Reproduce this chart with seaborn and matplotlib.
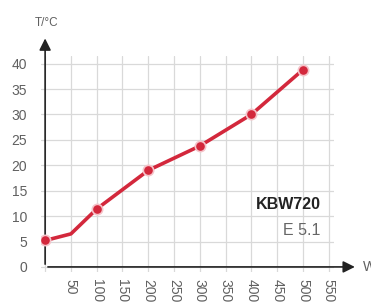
import numpy as np
import pandas as pd
import matplotlib.pyplot as plt
import seaborn as sns

sns.set_style("white")
plt.rcParams['font.family'] = ['Liberation Sans', 'DejaVu Sans']

# --- Data ---
power_w = [0, 50, 100, 200, 300, 400, 500]
temp_c = [5.2, 6.5, 11.4, 19.0, 23.8, 30.0, 38.8]
marker_w = [0, 100, 200, 300, 400, 500]
marker_c = [5.2, 11.4, 19.0, 23.8, 30.0, 38.8]
x_ticks = list(range(0, 551, 50))
x_labels = [""] + [str(v) for v in x_ticks[1:]]
y_ticks = list(range(0, 41, 5))

df_line = pd.DataFrame({"W": power_w, "T": temp_c})
df_pts = pd.DataFrame({"W": marker_w, "T": marker_c})

red = "#d3283c"
grid_col = "#d9d9d9"
label_col = "#606060"

fig = plt.figure(figsize=(3.71, 3.02), dpi=100)
ax = fig.add_axes([0.1105, 0.0993, 0.7895, 0.7153])

sns.lineplot(data=df_line, x="W", y="T", color=red, linewidth=2.6, ax=ax, zorder=3)
sns.scatterplot(data=df_pts, x="W", y="T", color=red, s=55, edgecolor="#f5c4ca",
                linewidth=1.2, ax=ax, zorder=4)

ax.set_xlim(-8, 560)
ax.set_ylim(-1, 41.5)
ax.set_xticks(x_ticks)
ax.set_xticklabels(x_labels, rotation=-90, fontsize=10, color=label_col)
ax.set_yticks(y_ticks)
ax.set_yticklabels([str(v) for v in y_ticks], fontsize=10, color=label_col)
ax.tick_params(axis="y", length=7, color=grid_col, pad=3)
ax.tick_params(axis="x", length=3, color="#888888", pad=2)
ax.set_xlabel("")
ax.set_ylabel("")

ax.grid(True, color=grid_col, linewidth=0.9)
for s in ax.spines.values():
    s.set_visible(False)

# axes with arrows
ax.annotate("", xy=(0, 45.5), xytext=(0, 0), xycoords="data",
            arrowprops=dict(arrowstyle="-|>,head_length=0.7,head_width=0.35",
                            color="#222222", lw=1.2), annotation_clip=False)
ax.annotate("", xy=(606, 0), xytext=(0, 0), xycoords="data",
            arrowprops=dict(arrowstyle="-|>,head_length=0.7,head_width=0.35",
                            color="#222222", lw=1.2), annotation_clip=False)
ax.text(2, 48, "T/°C", ha="center", va="center", fontsize=8.5,
        color=label_col, clip_on=False)
ax.text(617, 0, "W", ha="left", va="center", fontsize=10,
        color=label_col, clip_on=False)

ax.text(534, 12.3, "KBW720", ha="right", va="center", fontsize=11.5,
        fontweight="bold", color="#222222")
ax.text(534, 7.2, "E 5.1", ha="right", va="center", fontsize=11.5,
        color="#666666")

fig.savefig("out.png", dpi=100)
